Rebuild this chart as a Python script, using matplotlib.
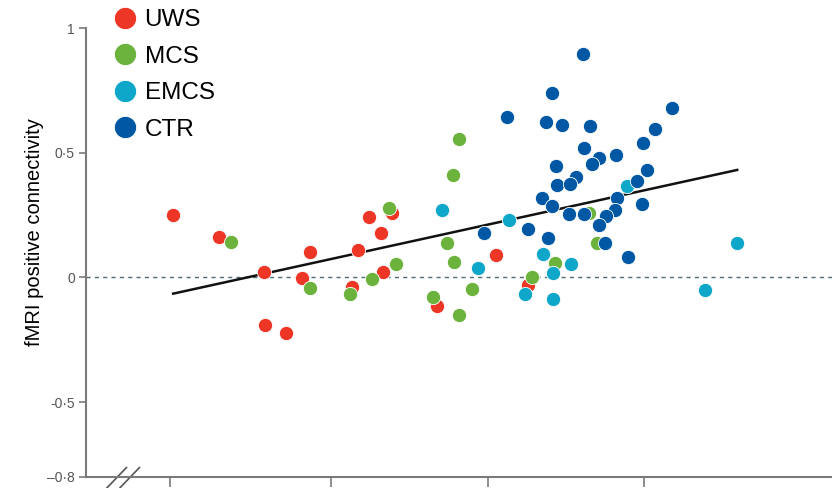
import matplotlib
matplotlib.use("Agg")
import matplotlib.pyplot as plt
from matplotlib.lines import Line2D
import numpy as np

plt.rcParams['font.family'] = ['Liberation Sans', 'DejaVu Sans']

# group data (x: arbitrary units, y: fMRI positive connectivity)
uws_x = [20.4, 26.2, 31.9, 32.0, 34.7, 36.7, 37.7, 43.0, 43.8, 45.2, 46.7, 47.0, 48.1, 53.8, 61.3, 65.3]
uws_y = [0.250, 0.161, 0.020, -0.190, -0.222, -0.004, 0.101, -0.040, 0.109, 0.242, 0.177, 0.020, 0.258, -0.113, 0.089, -0.032]

mcs_x = [27.7, 37.7, 42.8, 45.6, 47.7, 48.6, 53.3, 55.1, 55.9, 56.6, 55.8, 56.6, 58.2, 65.8, 68.7, 73.0, 74.0]
mcs_y = [0.141, -0.044, -0.065, -0.008, 0.278, 0.052, -0.077, 0.137, 0.060, 0.556, 0.411, -0.150, -0.048, 0.000, 0.056, 0.258, 0.137]

emcs_x = [54.4, 62.9, 77.8, 67.2, 70.8, 59.0, 68.5, 64.9, 68.5, 87.7, 91.8]
emcs_y = [0.270, 0.230, 0.367, 0.093, 0.052, 0.036, 0.016, -0.065, -0.085, -0.052, 0.137]

ctr_x = [72.3, 68.3, 83.5, 62.7, 67.6, 69.6, 73.2, 81.4, 79.9, 72.4, 76.5, 74.3,
         73.4, 68.9, 80.4, 71.4, 79.1, 69.0, 70.6, 67.1, 76.6, 68.3, 79.7, 70.5,
         72.4, 76.3, 75.2, 74.3, 65.3, 59.8, 67.8, 75.1, 78.0]
ctr_y = [0.895, 0.738, 0.681, 0.645, 0.625, 0.613, 0.609, 0.597, 0.540, 0.520, 0.492, 0.480,
         0.456, 0.448, 0.431, 0.403, 0.387, 0.371, 0.375, 0.319, 0.319, 0.286, 0.294, 0.254,
         0.254, 0.270, 0.246, 0.210, 0.194, 0.177, 0.157, 0.137, 0.081]

# regression line endpoints
fit_x = [20.4, 91.8]
fit_y = [-0.065, 0.431]

yticks = [1, 0.5, 0, -0.5, -0.8]
ytick_labels = ['1', '0·5', '0', '-0·5', '–0·8']
xticks = [20, 40.4, 60.3, 80]

colors = {'UWS': '#ee3627', 'MCS': '#6cb33e', 'EMCS': '#0ea6c9', 'CTR': '#0058a4'}

fig = plt.figure(figsize=(8.32, 4.88), dpi=100)
ax = fig.add_axes([86 / 832, 11 / 488, 746 / 832, 449 / 488])

ax.axhline(0, color='#4f6a78', lw=1, ls=(0, (3, 3)), zorder=1)
ax.plot(fit_x, fit_y, color='#111111', lw=1.8, zorder=2)

groups = [('UWS', uws_x, uws_y), ('MCS', mcs_x, mcs_y),
          ('EMCS', emcs_x, emcs_y), ('CTR', ctr_x, ctr_y)]
for i, (name, xs, ys) in enumerate(groups):
    ax.scatter(xs, ys, s=105, color=colors[name], edgecolors='white',
               linewidths=0.6, zorder=3 + i)

ax.set_xlim(9.37, 103.8)
ax.set_ylim(-0.8, 1.0)
ax.set_yticks(yticks)
ax.set_yticklabels(ytick_labels)
ax.set_xticks(xticks)
ax.set_xticklabels([])

for s in ['top', 'right']:
    ax.spines[s].set_visible(False)
for s in ['left', 'bottom']:
    ax.spines[s].set_color('#7a7a7a')
    ax.spines[s].set_linewidth(1.5)
ax.tick_params(axis='y', direction='out', length=5, width=1.2, color='#7a7a7a',
               labelcolor='#555555', labelsize=10, pad=3)
ax.tick_params(axis='x', direction='out', length=7, width=1.2, color='#7a7a7a')

ax.set_ylabel('fMRI positive connectivity', fontsize=14.5)
ax.yaxis.set_label_coords(-0.056, 0.546)

# axis break mark
for x0 in (0.0282, 0.0456):
    ax.plot([x0, x0 + 0.026], [-0.024, 0.021], color='#555555', lw=1.2,
            transform=ax.transAxes, clip_on=False)

handles = [Line2D([], [], marker='o', ls='', markersize=16, color=colors[n],
                  markeredgecolor='white', markeredgewidth=0.6) for n, _, _ in groups]
fig.legend(handles, [n for n, _, _ in groups], loc='upper left',
           bbox_to_anchor=(113 / 832, 1 - 9 / 488), frameon=False, fontsize=17.5,
           handlelength=1.0, handletextpad=0.3, labelspacing=0.6,
           borderpad=0, borderaxespad=0)

fig.savefig('out.png', dpi=100)
